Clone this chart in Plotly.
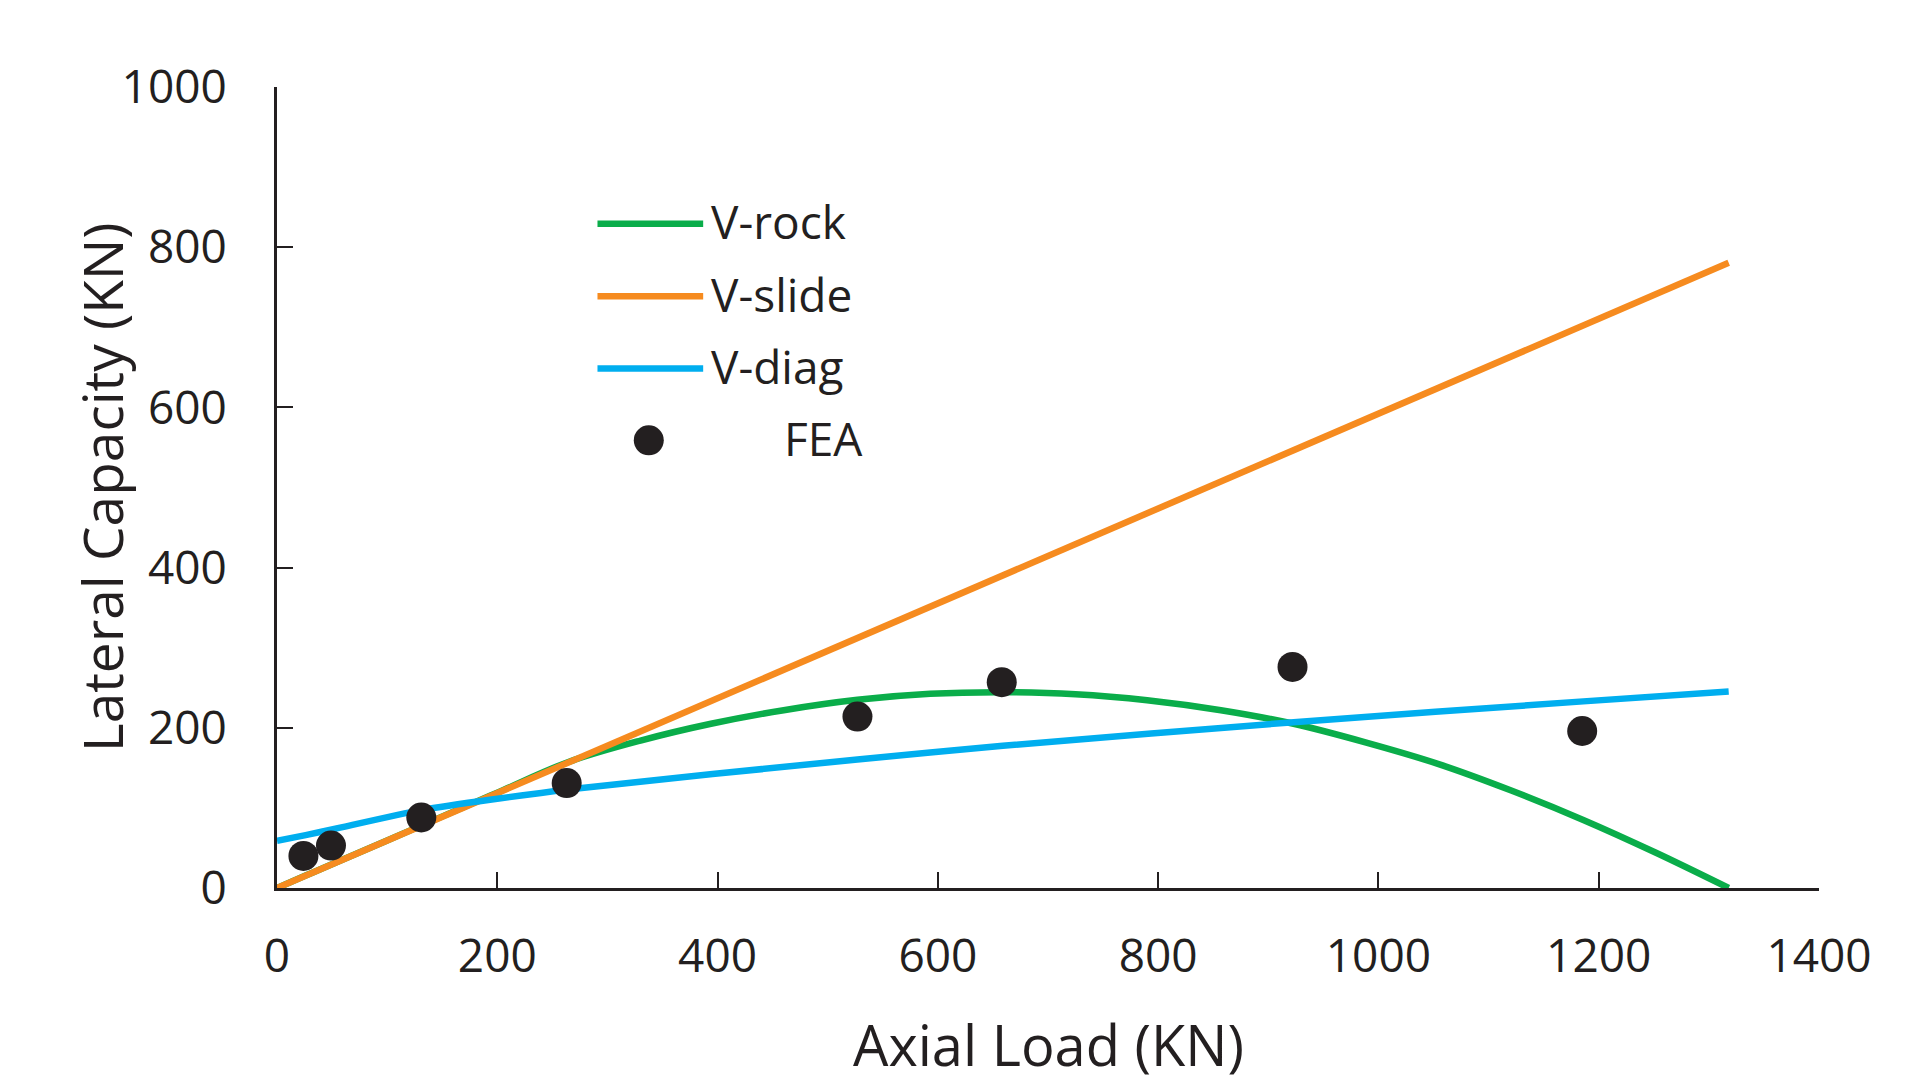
import plotly.graph_objects as go

# ---------------- data ----------------
SERIES_NAMES = ["V-rock", "V-slide", "V-diag", "FEA"]

P_ROCK = [0, 26, 53, 132, 200, 264, 330, 394, 460, 527, 593, 659, 725, 790,
          857, 923, 989, 1054, 1120, 1186, 1252, 1318]
V_ROCK = [0, 15.5, 31.5, 78.5, 119, 157, 184, 205, 222, 235, 242.5, 244.5, 242,
          234.5, 222, 205, 181.5, 155, 122, 85, 44, 0]

P_SLIDE = [0, 1318]
V_SLIDE = [0, 780.5]

P_DIAG = [0, 26, 53, 132, 264, 527, 659, 923, 1186, 1318]
V_DIAG = [59, 66, 74, 97.5, 123, 160.5, 177.5, 207, 233, 245.3]

P_FEA = [24, 49, 131, 263, 527, 658, 922, 1185]
V_FEA = [40, 53, 88, 131, 214, 257, 276, 196]

X_TICKS = [0, 200, 400, 600, 800, 1000, 1200, 1400]
Y_TICKS = [0, 200, 400, 600, 800, 1000]
X_TITLE = "Axial Load (KN)"
Y_TITLE = "Lateral Capacity (KN)"

# ---------------- styles ----------------
GREEN = "#0aad4a"
ORANGE = "#f68b1f"
BLUE = "#00aeef"
INK = "#231f20"
FONT = "Open Sans"
LW = 6.5

W, H = 1910, 1081
L, R, T, B = 276.5, 91.4, 86.5, 193

fig = go.Figure()
fig.add_trace(go.Scatter(x=P_ROCK, y=V_ROCK, mode="lines", name=SERIES_NAMES[0],
                         line=dict(color=GREEN, width=LW, shape="spline", smoothing=1.0)))
fig.add_trace(go.Scatter(x=P_SLIDE, y=V_SLIDE, mode="lines", name=SERIES_NAMES[1],
                         line=dict(color=ORANGE, width=LW)))
fig.add_trace(go.Scatter(x=P_DIAG, y=V_DIAG, mode="lines", name=SERIES_NAMES[2],
                         line=dict(color=BLUE, width=LW, shape="spline", smoothing=0.6)))
fig.add_trace(go.Scatter(x=P_FEA, y=V_FEA, mode="markers", name=SERIES_NAMES[3],
                         marker=dict(color=INK, size=30, line=dict(width=0))))

axis_common = dict(
    showgrid=False, zeroline=False, showline=True, linecolor=INK, linewidth=3,
    ticks="inside", ticklen=16, tickwidth=2, tickcolor=INK,
    tickfont=dict(family=FONT, size=46, color=INK),
)
fig.update_xaxes(range=[0, 1400], tickvals=X_TICKS, ticklabelstandoff=26, **axis_common)
fig.update_yaxes(range=[0, 1000], tickvals=Y_TICKS, ticklabelstandoff=38, **axis_common)

plot_w = W - L - R
plot_h = H - T - B


def px_x(px):
    return (px - L) / plot_w


def px_y(py):
    return (H - B - py) / plot_h


annotations = [
    dict(text=X_TITLE, xref="paper", yref="paper", x=0.5, y=0, xanchor="center",
         yanchor="middle", yshift=-156, showarrow=False,
         font=dict(family=FONT, size=56, color=INK)),
    dict(text=Y_TITLE, xref="paper", yref="paper", x=0, y=0.5, xanchor="center",
         yanchor="middle", xshift=-(L - 101), textangle=-90, showarrow=False,
         font=dict(family=FONT, size=55, color=INK)),
]

# manual legend (long line samples as in the reference)
shapes = []
legend_rows = [223.3, 296.0, 368.3, 440.0]
line_colors = [GREEN, ORANGE, BLUE]
for i, c in enumerate(line_colors):
    yy = px_y(legend_rows[i])
    shapes.append(dict(type="line", xref="paper", yref="paper", x0=px_x(597), x1=px_x(702.7),
                       y0=yy, y1=yy, line=dict(color=c, width=LW)))
    annotations.append(dict(text=SERIES_NAMES[i], xref="paper", yref="paper", x=px_x(709),
                            y=px_y(legend_rows[i] - 2.5), xanchor="left", yanchor="middle",
                            showarrow=False, font=dict(family=FONT, size=46, color=INK)))
r = 15
shapes.append(dict(type="circle", xref="paper", yref="paper",
                   x0=px_x(648.3 - r), x1=px_x(648.3 + r),
                   y0=px_y(legend_rows[3] + r), y1=px_y(legend_rows[3] - r),
                   fillcolor=INK, line=dict(width=0)))
annotations.append(dict(text=SERIES_NAMES[3], xref="paper", yref="paper", x=px_x(782),
                        y=px_y(legend_rows[3] - 2.5), xanchor="left", yanchor="middle",
                        showarrow=False, font=dict(family=FONT, size=46, color=INK)))

fig.update_layout(
    width=W, height=H, autosize=False,
    margin=dict(l=L, r=R, t=T, b=B, pad=0),
    paper_bgcolor="white", plot_bgcolor="white",
    showlegend=False,
    annotations=annotations, shapes=shapes,
    font=dict(family=FONT, color=INK),
)

fig.write_html("out.html", config={"displayModeBar": False},
               post_script="document.body.style.margin='0';")
